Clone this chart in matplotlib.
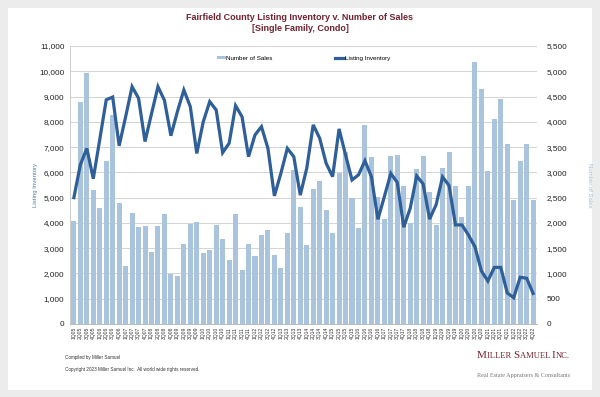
import numpy as np
import matplotlib
matplotlib.use("Agg")
import matplotlib.pyplot as plt
from matplotlib.patches import Rectangle
from matplotlib.ticker import FuncFormatter, MultipleLocator

plt.rcParams["font.family"] = ["Liberation Sans", "DejaVu Sans"]

# quarters 1Q05 .. 4Q22
years = list(range(5, 23))
quarters = [f"{q}Q{y:02d}" for y in years for q in range(1, 5)]

# number of sales (right axis)
sales = [2040, 4400, 4960, 2650,
         2300, 3225, 4140, 2390,
         1150, 2190, 1915, 1935,
         1430, 1945, 2175, 990,
         950, 1585, 1970, 2010,
         1400, 1455, 1960, 1675,
         1265, 2170, 1070, 1575,
         1340, 1765, 1860, 1365,
         1115, 1800, 3040, 2320,
         1565, 2670, 2835, 2255,
         1795, 2995, 3405, 2500,
         1890, 3930, 3310, 2510,
         2075, 3325, 3350, 2740,
         2005, 3075, 3330, 2620,
         1960, 3085, 3410, 2740,
         2110, 2730, 5190, 4650,
         3030, 4050, 4450, 3560,
         2450, 3230, 3560, 2450]

# listing inventory (left axis)
inventory = [5000, 6300, 6950, 5750,
             7300, 8870, 8980, 7050,
             8200, 9390, 8930, 7220,
             8320, 9390, 8850, 7450,
             8400, 9260, 8600, 6750,
             8000, 8800, 8470, 6780,
             7150, 8640, 8200, 6620,
             7480, 7810, 6950, 5070,
             5960, 6950, 6620, 5100,
             6160, 7880, 7350, 6360,
             5830, 7720, 6690, 5700,
             5900, 6460, 5830, 4140,
             5040, 5960, 5600, 3830,
             4580, 5860, 5540, 4150,
             4720, 5820, 5480, 3920,
             3920, 3520, 3060, 2100,
             1700, 2240, 2240, 1230,
             1040, 1850, 1810, 1210]

bar_color = "#a9c4dc"
line_color = "#2f5f98"
title_color = "#722330"

fig = plt.figure(figsize=(6, 3.97), dpi=100)
fig.patch.set_facecolor("#ececec")
fig.add_artist(Rectangle((8 / 600, 7 / 397), 584 / 600, 382 / 397,
                         transform=fig.transFigure, facecolor="white",
                         edgecolor="none", zorder=0))

ax = fig.add_axes([70 / 600, 1 - 324 / 397, 467 / 600, 278 / 397])
ax2 = ax.twinx()

x = np.arange(len(quarters))
ax2.bar(x, sales, width=0.78, color=bar_color, label="Number of Sales", zorder=2)
ax.plot(x, inventory, color=line_color, lw=2.3, label="Listing Inventory",
        solid_joinstyle="miter", zorder=3)

# line drawn over the bars
ax.set_zorder(ax2.get_zorder() + 1)
ax.patch.set_visible(False)

ax.set_ylim(0, 11000)
ax2.set_ylim(0, 5500)
ax.set_xlim(-0.6, len(quarters) - 0.4)
ax.yaxis.set_major_locator(MultipleLocator(1000))
ax2.yaxis.set_major_locator(MultipleLocator(500))
fmt = FuncFormatter(lambda v, p: f"{int(v):,}")
ax.yaxis.set_major_formatter(fmt)
ax2.yaxis.set_major_formatter(fmt)

ax2.grid(axis="y", color="#d4d4d4", lw=0.7, zorder=0)
ax2.set_axisbelow(True)

ax.set_xticks(x)
ax.set_xticklabels(quarters, rotation=90, fontsize=3.6, color="#333333")
ax.tick_params(axis="x", length=0, pad=2)
ax.tick_params(axis="y", length=0, labelsize=5.9, pad=4, colors="#222222")
ax2.tick_params(axis="y", length=0, labelsize=5.9, pad=7, colors="#222222")

for a in (ax, ax2):
    for s in ("top", "right"):
        a.spines[s].set_visible(False)
    a.spines["left"].set_color("#cccccc")
    a.spines["left"].set_linewidth(0.6)
    a.spines["bottom"].set_color("#bbbbbb")
    a.spines["bottom"].set_linewidth(0.6)

ax.set_ylabel("Listing Inventory", fontsize=4.3, color="#4a78b0", labelpad=0.5)
ax2.set_ylabel("Number of Sales", fontsize=4.3, color="#9dbad3", rotation=270, labelpad=18)

fig.text(0.5, 1 - 23 / 397, "Fairfield County Listing Inventory v. Number of Sales\n[Single Family, Condo]",
         ha="center", va="center", fontsize=6.5, fontweight="bold", color=title_color,
         linespacing=1.4)

h1, l1 = ax2.get_legend_handles_labels()
h2, l2 = ax.get_legend_handles_labels()
ax.legend(h1 + h2, l1 + l2, loc="upper center", bbox_to_anchor=(0.5, 0.985), ncol=2,
          frameon=False, fontsize=4.5, handlelength=1.4, handleheight=0.5,
          handletextpad=0.1, columnspacing=10)

fig.text(65 / 600, 1 - 357 / 397, "Compiled by Miller Samuel", fontsize=3.3, color="#333333", va="center")
fig.text(65 / 600, 1 - 370 / 397, "Copyright 2023 Miller Samuel Inc.  All world wide rights reserved.",
         fontsize=3.3, color="#333333", va="center")

# logo in small caps
serif = "Liberation Serif"
t = fig.text(477 / 600, 1 - 358 / 397, "M", fontsize=8, family=serif, color=title_color)
for piece, size in [("ILLER ", 6.1), ("S", 8), ("AMUEL ", 6.1), ("I", 8), ("NC.", 6.1)]:
    t = ax.annotate(piece, xy=(1, 0), xycoords=t, fontsize=size, family=serif,
                    color=title_color, va="bottom", ha="left", annotation_clip=False)
fig.text(477 / 600, 1 - 375 / 397, "Real Estate Appraisers & Consultants", fontsize=4.4,
         family=serif, color="#777777", va="center")

fig.savefig("out.png", dpi=100, facecolor=fig.get_facecolor())
